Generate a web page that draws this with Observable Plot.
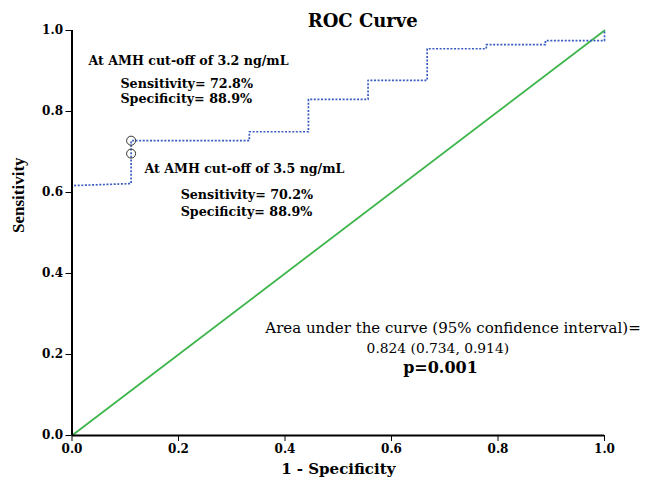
<!DOCTYPE html>
<html>
<head>
<meta charset="utf-8">
<script src="https://cdn.jsdelivr.net/npm/d3@7"></script>
<script src="https://cdn.jsdelivr.net/npm/@observablehq/plot@0.6"></script>
<style>
  html, body { margin: 0; padding: 0; background: #fff; }
</style>
</head>
<body>
<div id="chart"></div>
<script>
// ROC curve points (1 - specificity, sensitivity)
const fpr = [0, 0, 0.111, 0.111, 0.333, 0.333, 0.444, 0.444, 0.556, 0.556, 0.667, 0.667, 0.778, 0.778, 0.889, 0.889, 1, 1];
const tpr = [0, 0.617, 0.622, 0.728, 0.728, 0.750, 0.750, 0.830, 0.830, 0.877, 0.877, 0.955, 0.955, 0.965, 0.965, 0.975, 0.975, 1];
// reference line
const refX = [0, 1];
const refY = [0, 1];
// highlighted cut-off points
const cutFpr = [0.111, 0.111];
const cutTpr = [0.728, 0.696];
// tick values
const ticks = [0, 0.2, 0.4, 0.6, 0.8, 1.0];
// texts
const title = "ROC Curve";
const xLabel = "1 - Specificity";
const yLabel = "Sensitivity";
const cut1 = ["At AMH cut-off of 3.2 ng/mL", "Sensitivity= 72.8%", "Specificity= 88.9%"];
const cut2 = ["At AMH cut-off of 3.5 ng/mL", "Sensitivity= 70.2%", "Specificity= 88.9%"];
const aucText = ["Area under the curve (95% confidence interval)=", "0.824 (0.734, 0.914)", "p=0.001"];

const roc = fpr.map((x, i) => ({x, y: tpr[i]}));
const ref = refX.map((x, i) => ({x, y: refY[i]}));
const cuts = cutFpr.map((x, i) => ({x, y: cutTpr[i]}));

const serif = "'DejaVu Serif', serif";
const tnr = "'Liberation Serif', 'Times New Roman', serif";

const chart = Plot.plot({
  width: 652,
  height: 480,
  marginLeft: 71.5,
  marginRight: 48,
  marginTop: 30,
  marginBottom: 45,
  style: {fontFamily: serif, fontSize: "12px", fontWeight: "bold", color: "#000", background: "#fff"},
  x: {domain: [0, 1]},
  y: {domain: [0, 1]},
  marks: [
    Plot.axisX({ticks, tickFormat: d3.format(".1f"), tickSize: 6, tickPadding: 3, fontSize: 12, fontWeight: "bold",
      label: null}),
    Plot.axisY({ticks, tickFormat: d3.format(".1f"), tickSize: 6, tickPadding: 3, fontSize: 12, fontWeight: "bold",
      label: null}),
    Plot.line(ref, {x: "x", y: "y", stroke: "#3db54a", strokeWidth: 1.8}),
    Plot.line(roc, {x: "x", y: "y", stroke: "#3a5cc0", strokeWidth: 1.7, strokeDasharray: "2,1.6", strokeLinecap: "butt"}),
    Plot.dot(cuts, {x: "x", y: "y", r: 4.5, stroke: "#333", strokeWidth: 1, fill: "none"}),
    Plot.ruleX([0], {stroke: "#000", strokeWidth: 2}),
    Plot.ruleY([0], {stroke: "#000", strokeWidth: 2}),
    // title and axis labels
    Plot.text([title], {x: 0.546, frameAnchor: "top", lineAnchor: "middle", dy: -9, fontSize: 18, fontWeight: "bold"}),
    Plot.text([xLabel], {x: 0.5, frameAnchor: "bottom", lineAnchor: "middle", dy: 34, fontSize: 15, fontWeight: "bold"}),
    Plot.text([yLabel], {y: 0.5, frameAnchor: "left", dx: -53, rotate: -90, fontSize: 17, fontWeight: "bold", fontFamily: tnr}),
    // annotations
    Plot.text([cut1[0]], {x: 0.031, y: 0.926, textAnchor: "start", fontSize: 12.6, fontWeight: "bold"}),
    Plot.text([cut1[1]], {x: 0.091, y: 0.867, textAnchor: "start", fontSize: 12.7, fontWeight: "bold"}),
    Plot.text([cut1[2]], {x: 0.091, y: 0.830, textAnchor: "start", fontSize: 12.7, fontWeight: "bold"}),
    Plot.text([cut2[0]], {x: 0.136, y: 0.659, textAnchor: "start", fontSize: 12.6, fontWeight: "bold"}),
    Plot.text([cut2[1]], {x: 0.204, y: 0.593, textAnchor: "start", fontSize: 12.7, fontWeight: "bold"}),
    Plot.text([cut2[2]], {x: 0.204, y: 0.553, textAnchor: "start", fontSize: 12.7, fontWeight: "bold"}),
    Plot.text([aucText[0]], {x: 0.363, y: 0.264, textAnchor: "start", fontSize: 15, fontWeight: "normal"}),
    Plot.text([aucText[1]], {x: 0.687, y: 0.215, fontSize: 13.8, fontWeight: "normal"}),
    Plot.text([aucText[2]], {x: 0.692, y: 0.168, fontSize: 16, fontWeight: "bold"})
  ]
});
document.getElementById("chart").appendChild(chart);
</script>
</body>
</html>
